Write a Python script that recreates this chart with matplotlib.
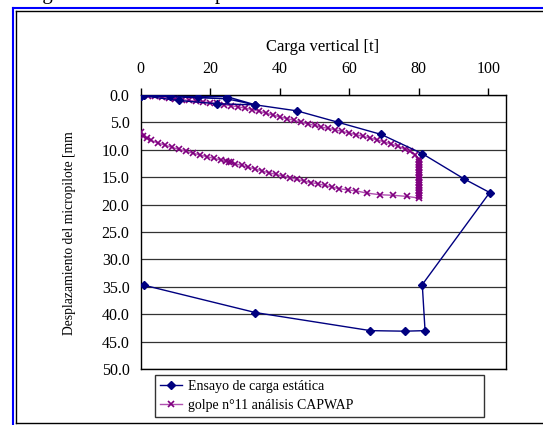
import matplotlib
matplotlib.use('Agg')
import matplotlib.pyplot as plt
from matplotlib.lines import Line2D

plt.rcParams['font.family'] = ['Liberation Serif', 'DejaVu Serif']

# static load test (load [t], displacement [mm])
static_load = [0.0, 1.0, 8.3, 16.4, 24.8, 33.0, 24.8, 0.0, 10.9, 21.9, 33.0, 45.0,
               56.9, 69.2, 81.0, 93.0, 100.4, 81.0, 81.8, 76.0, 66.1, 33.0, 0.9]
static_disp = [0.1, 0.0, 0.2, 0.3, 0.3, 1.8, 0.7, 0.1, 1.0, 1.6, 1.8, 2.9,
               5.0, 7.2, 10.7, 15.3, 17.8, 34.6, 43.0, 43.1, 43.0, 39.7, 34.7]

# CAPWAP blow 11: loading branch, plateau at 80 t, unloading branch
capwap_load = [0, 2, 4, 6, 8, 10, 12, 14, 16, 18, 20, 22, 24, 26, 28, 30, 32, 34,
               36, 38, 40, 42, 44, 46, 48, 50, 52, 54, 56, 58, 60, 62, 64, 66, 68,
               70, 72, 74, 76, 77.5, 79, 80,
               80, 80, 80, 80, 80, 80, 80, 80, 80, 80, 80, 80, 80, 80, 80, 80,
               80, 80, 80, 80, 80, 80, 80, 80,
               76.5, 72.5, 68.9, 65, 62, 59.5, 57, 55, 53, 51, 49, 47, 45, 43, 41,
               39, 37, 35, 33, 31, 29, 27, 25.9, 25.3, 24.5, 23, 21, 19, 17, 15,
               13, 11, 9, 7, 5, 3, 1.7, 0.8, 0]
capwap_disp = [0.0, 0.1, 0.25, 0.4, 0.55, 0.7, 0.85, 1.0, 1.1, 1.25, 1.4, 1.55,
               1.75, 1.95, 2.15, 2.4, 2.65, 2.95, 3.3, 3.65, 4.0, 4.3, 4.6, 4.95,
               5.25, 5.55, 5.85, 6.1, 6.35, 6.65, 6.95, 7.25, 7.55, 7.85, 8.2,
               8.55, 8.95, 9.35, 9.85, 10.3, 10.9, 11.7,
               11.9, 12.2, 12.5, 12.8, 13.1, 13.4, 13.7, 14.0, 14.3, 14.6, 14.9,
               15.2, 15.5, 15.8, 16.1, 16.4, 16.7, 17.0, 17.3, 17.6, 17.9, 18.2,
               18.5, 18.8,
               18.5, 18.3, 18.2, 17.9, 17.5, 17.3, 17.1, 16.8, 16.5, 16.2, 16.0,
               15.7, 15.4, 15.1, 14.8, 14.5, 14.2, 13.9, 13.5, 13.2, 12.85, 12.5,
               12.3, 12.2, 12.1, 11.85, 11.55, 11.25, 10.95, 10.6, 10.25, 9.9,
               9.55, 9.15, 8.75, 8.3, 7.9, 7.4, 6.7]

x_ticks = [0, 20, 40, 60, 80, 100]
y_ticks = [0, 5, 10, 15, 20, 25, 30, 35, 40, 45, 50]

W, H = 543, 425
fig = plt.figure(figsize=(W / 100, H / 100), dpi=100)

# frame around the chart
fig.add_artist(Line2D([12.5 / W, 12.5 / W], [0, 1 - 8 / H], color='#0000ff', lw=1.5))
fig.add_artist(Line2D([12.5 / W, 1], [1 - 8 / H, 1 - 8 / H], color='#0000ff', lw=1.5))
fig.add_artist(Line2D([16 / W, 16 / W], [1 - 423 / H, 1 - 11 / H], color='black', lw=1))
fig.add_artist(Line2D([16 / W, 1], [1 - 11 / H, 1 - 11 / H], color='black', lw=1))
fig.add_artist(Line2D([16 / W, 1], [1 - 423 / H, 1 - 423 / H], color='black', lw=1))

# caption cut off at the top of the picture
fig.text(-8 / W, 1 + 1 / H, 'de carga estática del micropilote', fontsize=15,
         ha='left', va='baseline')

ax = fig.add_axes([140.7 / W, 1 - 369 / H, 365 / W, 274 / H])

ax.plot(static_load, static_disp, color='#000080', lw=1, marker='D', ms=4,
        label='Ensayo de carga estática', zorder=4)
ax.plot(capwap_load, capwap_disp, color='#b050b0', lw=1, marker='x', ms=4,
        mec='#800080', mew=1.2, label='golpe n°11 análisis CAPWAP', zorder=3)

ax.set_xlim(0, 105)
ax.set_ylim(50, 0)
ax.set_xticks(x_ticks)
ax.set_yticks(y_ticks)
ax.set_yticklabels(['%.1f' % v for v in y_ticks])
ax.xaxis.tick_top()
ax.tick_params(axis='x', direction='out', length=5, width=1, pad=8, labelsize=11.5)
ax.tick_params(axis='y', length=0, pad=8, labelsize=11.5)
ax.grid(axis='y', color='#333333', lw=0.9)
ax.set_axisbelow(True)
for s in ax.spines.values():
    s.set_color('black')
    s.set_linewidth(1)

fig.text(323 / W, 1 - 47 / H, 'Carga vertical [t]', fontsize=12, ha='center', va='center')
fig.text(70 / W, 1 - 233 / H, 'Desplazamiento del micropilote [mm', fontsize=9.8,
         rotation=90, ha='center', va='center')

leg = fig.legend(loc='upper left', bbox_to_anchor=(155 / W, 1 - 416 / H, 329 / W, 41 / H),
                 mode='expand', fontsize=10, frameon=True, fancybox=False,
                 borderaxespad=0, handlelength=1.6, handletextpad=0.4,
                 labelspacing=0.45, borderpad=0.35)
leg.get_frame().set_edgecolor('black')
leg.get_frame().set_linewidth(1)

fig.savefig('out.png', dpi=100)
